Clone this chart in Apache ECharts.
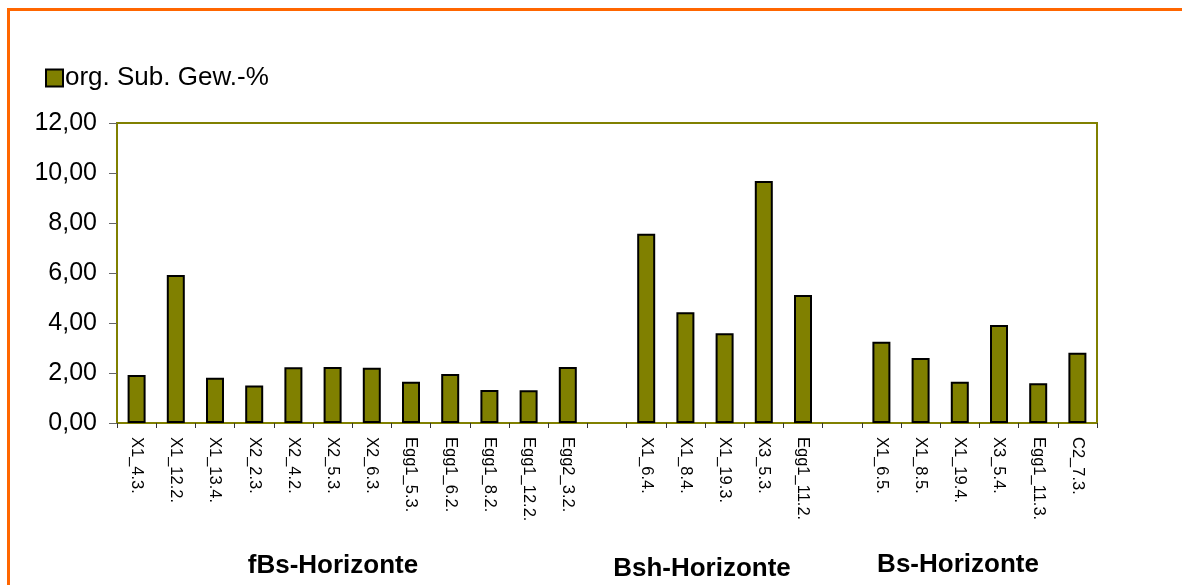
<!DOCTYPE html>
<html>
<head>
<meta charset="utf-8">
<script src="https://cdn.jsdelivr.net/npm/echarts@6/dist/echarts.min.js"></script>
<style>
html, body { margin: 0; padding: 0; background: #fff; }
#frame { position: absolute; left: 7px; top: 8px; width: 1200px; height: 600px; border-top: 3px solid #ff6600; border-left: 3px solid #ff6600; }
#main { position: absolute; left: 0; top: 0; width: 1182px; height: 585px; }
</style>
</head>
<body>
<div id="frame"></div>
<div id="main"></div>
<script>
// Kategorien (leere Einträge = Lücke zwischen den Gruppen)
var categories = ["X1_4.3.", "X1_12.2.", "X1_13.4.", "X2_2.3.", "X2_4.2.", "X2_5.3.", "X2_6.3.", "Egg1_5.3.", "Egg1_6.2.", "Egg1_8.2.", "Egg1_12.2.", "Egg2_3.2.",
    "",
    "X1_6.4.", "X1_8.4.", "X1_19.3.", "X3_5.3.", "Egg1_11.2.",
    "",
    "X1_6.5.", "X1_8.5.", "X1_19.4.", "X3_5.4.", "Egg1_11.3.", "C2_7.3."];
// org. Sub. Gew.-%
var orgSub = [1.92, 5.92, 1.81, 1.50, 2.23, 2.24, 2.21, 1.65, 1.96, 1.32, 1.31, 2.24,
    null,
    7.57, 4.43, 3.59, 9.68, 5.12,
    null,
    3.25, 2.60, 1.65, 3.92, 1.59, 2.81];
var groupNames = ["fBs-Horizonte", "Bsh-Horizonte", "Bs-Horizonte"];

var myChart = echarts.init(document.getElementById("main"));
var font = "'Liberation Sans', Arial, sans-serif";
var option = {
    backgroundColor: 'transparent',
    animation: false,
    legend: {
        left: 40,
        top: 60,
        icon: 'rect',
        itemWidth: 17,
        itemHeight: 17,
        itemGap: 4,
        itemStyle: { borderColor: '#000', borderWidth: 2 },
        textStyle: { fontFamily: font, fontSize: 26, color: '#000', padding: [0, 0, 0, -3] },
        data: ['org. Sub. Gew.-%']
    },
    grid: {
        left: 117,
        right: 85,
        top: 123,
        bottom: 162,
        show: true,
        borderColor: '#808000',
        borderWidth: 2,
        backgroundColor: '#fff'
    },
    xAxis: {
        type: 'category',
        data: categories,
        axisLine: { lineStyle: { color: '#808000', width: 2 } },
        axisTick: { show: true, length: 5, lineStyle: { color: '#333' } },
        axisLabel: {
            rotate: -90,
            interval: 0,
            margin: 14,
            fontFamily: font,
            fontSize: 16.5,
            color: '#000'
        }
    },
    yAxis: {
        type: 'value',
        min: 0,
        max: 12,
        interval: 2,
        axisLine: { show: true, lineStyle: { color: '#808000', width: 2 } },
        axisTick: { show: true, length: 8, lineStyle: { color: '#666' } },
        splitLine: { show: false },
        axisLabel: {
            margin: 20,
            fontFamily: font,
            fontSize: 25,
            color: '#000',
            formatter: function (v) { return v.toFixed(2).replace('.', ','); }
        }
    },
    series: [{
        name: 'org. Sub. Gew.-%',
        type: 'bar',
        data: orgSub,
        barWidth: 18,
        itemStyle: { color: '#808000', borderColor: '#000', borderWidth: 2 }
    }],
    graphic: [
        { type: 'text', x: 333, y: 566, style: { text: groupNames[0], font: 'bold 26px ' + font, fill: '#000', align: 'center', verticalAlign: 'middle' } },
        { type: 'text', x: 702, y: 569, style: { text: groupNames[1], font: 'bold 26px ' + font, fill: '#000', align: 'center', verticalAlign: 'middle' } },
        { type: 'text', x: 958, y: 565, style: { text: groupNames[2], font: 'bold 26px ' + font, fill: '#000', align: 'center', verticalAlign: 'middle' } }
    ]
};
myChart.setOption(option);
</script>
</body>
</html>
